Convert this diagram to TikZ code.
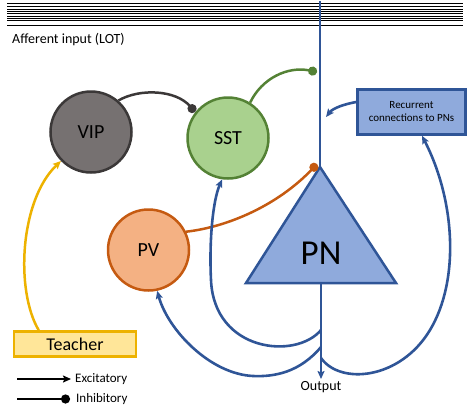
\documentclass[tikz,border=0pt]{standalone}
\usepackage{fontspec}
\setmainfont{Carlito}
\usetikzlibrary{arrows.meta}
\definecolor{pnblue}{HTML}{2F5597}
\definecolor{pnfill}{HTML}{8FAADC}
\definecolor{vipfill}{HTML}{767171}
\definecolor{vipline}{HTML}{3B3838}
\definecolor{sstfill}{HTML}{A9D18E}
\definecolor{sstline}{HTML}{548235}
\definecolor{pvfill}{HTML}{F4B183}
\definecolor{pvline}{HTML}{C55A11}
\definecolor{teachfill}{HTML}{FFE699}
\definecolor{teachline}{HTML}{EDB200}
\tikzset{
  cell/.style={circle, minimum size=81pt, inner sep=0pt, line width=2.5pt, font=\fontsize{20}{22}\selectfont},
  excit/.style={line width=2.5pt, -{Stealth[length=8pt,width=7pt,inset=1.5pt]}},
  inhib/.style={line width=2.5pt, -{Circle[length=9pt]}},
  blueconn/.style={draw=pnblue, line width=2.6pt, -{Stealth[length=8pt,width=7pt,inset=1.5pt]}},
}
\begin{document}
\begin{tikzpicture}[x=1pt,y=-1pt]
\useasboundingbox (0,0) rectangle (473,416);
% afferent lines
\foreach \yy in {3.3,6.7,9,11.3,13.7,16,18.3,20.7,25.7}
  \draw[line width=0.6pt] (7,\yy) -- (463,\yy);
\node[anchor=west, inner sep=0pt, font=\fontsize{14}{16}\selectfont] (aff) at (12,40) {Afferent input (LOT)};

% cells
\node[cell, fill=vipfill, draw=vipline] (vip) at (91,132) {VIP};
\node[cell, fill=sstfill, draw=sstline] (sst) at (228,138) {SST};
\node[cell, fill=pvfill, draw=pvline] (pv) at (148.5,250) {PV};

% PN triangle
\coordinate (apex) at (320,167);
\coordinate (bl) at (246,283);
\coordinate (br) at (396,283);
\coordinate (basec) at (321,283);
\coordinate (dtop) at (320,1);
\draw[pnblue, line width=2.6pt] (dtop) -- (apex);
\draw[fill=pnfill, draw=pnblue, line width=2.5pt, line join=miter] (apex) -- (br) -- (bl) -- cycle;
\node[font=\fontsize{35}{37}\selectfont, inner sep=0pt] (pn) at (321,253) {PN};

% output
\coordinate (outtip) at (321,379);
\draw[blueconn] (basec) -- (outtip);
\node[font=\fontsize{14}{16}\selectfont, inner sep=0pt] (out) at (321,387) {Output};

% recurrent box
\node[draw=pnblue, fill=pnfill, line width=2.5pt, minimum width=108pt, minimum height=45pt, inner sep=0pt,
      align=center, font=\fontsize{11}{13}\selectfont] (rec) at (411.5,112) {Recurrent\\connections to PNs};

% teacher
\node[draw=teachline, fill=teachfill, line width=2.6pt, minimum width=122pt, minimum height=25pt, inner sep=0pt,
      font=\fontsize{18}{20}\selectfont] (teach) at (75,344) {Teacher};

% connections
\coordinate (vipdot) at (195,112);
\draw[inhib, vipline] (vip.49) .. controls (140,88) and (176,90) .. (vipdot);
\coordinate (sstdot) at (317,72);
\draw[inhib, sstline] (sst.58) .. controls (262,78) and (288,66) .. (sstdot);
\coordinate (pvdot) at (317,164);
\draw[inhib, pvline] (pv.26) .. controls (228,227) and (278,205) .. (pvdot);
\draw[excit, teachline] ([xshift=26pt]teach.north west) .. controls (15,290) and (20,200) .. (vip.224);
\coordinate (recend) at (326,117);
\draw[blueconn] (rec.west |- 0,102) .. controls (345,104) and (333,108) .. (recend);

% recurrent loops from the axon
\coordinate (ax1) at (321,330);
\coordinate (ax2) at (321,347);
\coordinate (ax3) at (321,358);
\draw[blueconn] (ax1) .. controls (296,360) and (214,352) .. (211,280) .. controls (209,240) and (213,200) .. (sst.262);
\draw[blueconn] (ax2) .. controls (300,372) and (275,377) .. (253,376) .. controls (210,374) and (168,330) .. (pv.282);
\draw[blueconn] (ax3) .. controls (340,385) and (400,380) .. (430,330) .. controls (460,280) and (455,200) .. (rec.south -| 422,0);

% legend
\coordinate (l1a) at (17,379);
\coordinate (l1b) at (71,379);
\coordinate (l2a) at (17,399);
\coordinate (l2b) at (70,399);
\draw[excit, black, line width=2.8pt] (l1a) -- (l1b);
\draw[inhib, black, line width=2.8pt] (l2a) -- (l2b);
\node[anchor=west, inner sep=0pt, font=\fontsize{13}{15}\selectfont] (lex) at (75,379) {Excitatory};
\node[anchor=west, inner sep=0pt, font=\fontsize{13}{15}\selectfont] (lin) at (76,399) {Inhibitory};
\end{tikzpicture}
\end{document}
